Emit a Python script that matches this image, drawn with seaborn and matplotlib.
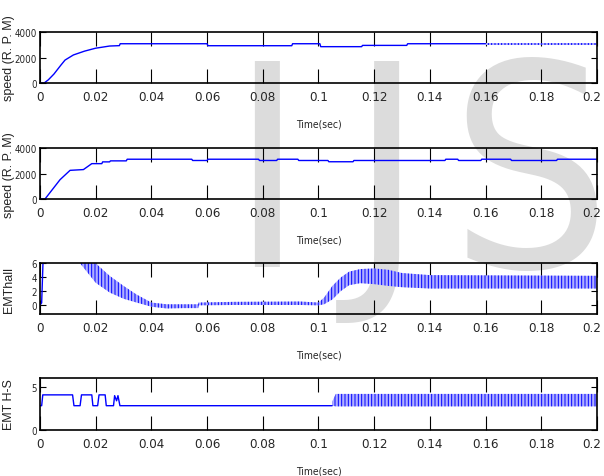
import matplotlib
matplotlib.use('Agg')
import matplotlib.pyplot as plt
from matplotlib import font_manager
from matplotlib.font_manager import FontProperties
from matplotlib.transforms import ScaledTranslation
import seaborn as sns

# x axis (shared by all four panels)
time_ticks = [0, 0.02, 0.04, 0.06, 0.08, 0.1, 0.12, 0.14, 0.16, 0.18, 0.2]
time_tick_labels = ['0', '0.02', '0.04', '0.06', '0.08', '0.1', '0.12', '0.14', '0.16', '0.18', '0.2']

# panel 1: speed (R.P.M)
speed1_t = [0, 0.0015, 0.003, 0.005, 0.0075, 0.009, 0.012, 0.016, 0.02, 0.025, 0.0285,
            0.0288, 0.06, 0.0603, 0.0904, 0.0907, 0.1005, 0.1008, 0.1155, 0.1158, 0.1317,
            0.132, 0.16]
speed1_rpm = [0, 0, 250, 700, 1400, 1800, 2200, 2500, 2730, 2900, 2930,
              3080, 3080, 2925, 2925, 3080, 3080, 2850, 2850, 2950, 2950,
              3080, 3080]
speed1_ripple_t = [0.16, 0.2]
speed1_ripple_lo = [2950, 2950]
speed1_ripple_hi = [3170, 3170]

# panel 2: speed (R.P.M)
speed2_t = [0, 0.0018, 0.0072, 0.0108, 0.0156, 0.0186, 0.0222, 0.0225, 0.025, 0.0253,
            0.031, 0.0313, 0.0545, 0.0548, 0.06, 0.0603, 0.0785, 0.0788, 0.085, 0.0853,
            0.0926, 0.0929, 0.1034, 0.1037, 0.1124, 0.1127, 0.1454, 0.1457, 0.150, 0.1503,
            0.1583, 0.1586, 0.169, 0.1693, 0.1855, 0.1858, 0.2]
speed2_rpm = [0, 0, 1530, 2270, 2330, 2800, 2800, 2940, 2940, 3020,
              3020, 3150, 3150, 3050, 3050, 3150, 3150, 3050, 3050, 3150,
              3150, 3050, 3050, 2950, 2950, 3050, 3050, 3150, 3150, 3050,
              3050, 3150, 3150, 3050, 3050, 3150, 3150]

# panel 3: EMT hall (line start, then ripple envelope)
hall_t = [0, 0.0006, 0.0012, 0.0144]
hall_v = [0, 0.3, 7.5, 7.5]
hall_ripple_t = [0.0144, 0.02, 0.025, 0.03, 0.0347, 0.04, 0.0455, 0.0515, 0.0568, 0.057,
                 0.0695, 0.0934, 0.1, 0.102, 0.105, 0.108, 0.111, 0.115, 0.12, 0.125,
                 0.13, 0.14, 0.2]
hall_ripple_hi = [7.5, 6.0, 4.2, 2.75, 1.5, 0.35, 0.1, 0.1, 0.1, 0.35,
                  0.45, 0.5, 0.35, 1.06, 2.75, 3.96, 4.8, 5.17, 5.26, 5.07,
                  4.6, 4.3, 4.2]
hall_ripple_lo = [6.0, 3.2, 1.8, 0.9, 0.35, -0.25, -0.5, -0.45, -0.45, -0.05,
                  0.0, 0.0, -0.05, 0.1, 0.8, 2.0, 2.85, 3.14, 3.0, 2.75,
                  2.56, 2.37, 2.37]

# panel 4: EMT H-S
hs_t = [0, 0.0006, 0.001, 0.0117, 0.0122, 0.0144, 0.0149, 0.0186, 0.019, 0.0207,
        0.0212, 0.0234, 0.0238, 0.0264, 0.0268, 0.0275, 0.028, 0.0287, 0.1049]
hs_v = [2.83, 2.83, 4.09, 4.09, 2.83, 2.83, 4.09, 4.09, 2.83, 2.83,
        4.09, 4.09, 2.83, 2.83, 4.0, 3.4, 4.0, 2.83, 2.83]
hs_ripple_t = [0.1049, 0.1062, 0.2]
hs_ripple_lo = [2.83, 2.75, 2.75]
hs_ripple_hi = [3.3, 4.2, 4.2]


def find_narrow_font():
    # look for any installed condensed / narrow sans face (regular weight)
    best = None
    for f in font_manager.fontManager.ttflist:
        if f.style != 'normal' or f.weight not in (400, 'normal', 'regular'):
            continue
        name = f.name
        is_narrow = ('Narrow' in name or 'Condensed' in name or 'condensed' in str(f.stretch))
        if not is_narrow or 'Mono' in name or 'Serif' in name:
            continue
        rank = 0 if 'Liberation' in name else (1 if 'DejaVu' in name else 2)
        if best is None or rank < best[0]:
            best = (rank, f.fname)
    return best[1] if best else None


sns.set_theme(style='white')
plt.rcParams['font.family'] = ['Liberation Sans', 'DejaVu Sans']
plt.rcParams['hatch.linewidth'] = 0.7

narrow_path = find_narrow_font()
if narrow_path:
    def nfont(size):
        return FontProperties(fname=narrow_path, size=size)
    xtick_size, ytick_size, xlab_size, wm_size = 9.5, 7, 7.5, 203
else:
    def nfont(size):
        return FontProperties(family='Liberation Sans', size=size)
    xtick_size, ytick_size, xlab_size, wm_size = 7.5, 6.5, 7, 205

fig = plt.figure(figsize=(6.04, 4.77), dpi=100)
fig.patch.set_facecolor('white')

# watermark behind the axes
wm = dict(fontproperties=nfont(wm_size), color='#dcdcdc', ha='center', va='baseline', zorder=-5)
fig.text(266 / 604, 0.44, 'I', **wm)
fig.text(386 / 604, 0.44, 'J', **wm)
fig.text(530 / 604, 0.44, 'S', **wm)

# [left, bottom, width, height] in figure fractions
boxes = [
    [0.0662, 0.8239, 0.9222, 0.1069],
    [0.0662, 0.5807, 0.9222, 0.1059],
    [0.0662, 0.3396, 0.9222, 0.1063],
    [0.0662, 0.0964, 0.9222, 0.1090],
]
ylabels = ['speed (R. P. M)', 'speed (R. P. M)', 'EMThall', 'EMT H-S']
ylims = [(0, 4000), (0, 4000), (-1.3, 6), (0, 6.05)]
yticks = [[0, 2000, 4000], [0, 2000, 4000], [0, 2, 4, 6], [0, 5]]

axes = [fig.add_axes(b) for b in boxes]


def ripple(ax, t, lo, hi):
    ax.fill_between(t, lo, hi, facecolor='#b0b0ff', edgecolor='#0000ff',
                    hatch='|||||', linewidth=0)


line_kw = dict(color='#0000ff', linewidth=1.0, estimator=None, sort=False)
sns.lineplot(x=speed1_t, y=speed1_rpm, ax=axes[0], **line_kw)
ripple(axes[0], speed1_ripple_t, speed1_ripple_lo, speed1_ripple_hi)
sns.lineplot(x=speed2_t, y=speed2_rpm, ax=axes[1], **line_kw)
sns.lineplot(x=hall_t, y=hall_v, ax=axes[2], **line_kw)
ripple(axes[2], hall_ripple_t, hall_ripple_lo, hall_ripple_hi)
sns.lineplot(x=hs_t, y=hs_v, ax=axes[3], **line_kw)
ripple(axes[3], hs_ripple_t, hs_ripple_lo, hs_ripple_hi)

last_shift = ScaledTranslation(-5 / 100, 0, fig.dpi_scale_trans)

for ax, lab, yl, yt in zip(axes, ylabels, ylims, yticks):
    ax.set_facecolor('none')
    ax.set_xlim(0, 0.2)
    ax.set_ylim(*yl)
    ax.set_xticks(time_ticks)
    ax.set_xticklabels(time_tick_labels, fontproperties=nfont(xtick_size))
    ax.set_yticks(yt)
    ax.set_yticklabels([str(v) for v in yt], fontproperties=nfont(ytick_size))
    ax.tick_params(axis='x', direction='in', length=10, width=0.8, color='black',
                   top=True, bottom=True, pad=5)
    ax.tick_params(axis='y', direction='in', length=4, width=0.8, color='black',
                   left=True, right=True, pad=2)
    # keep "0.2" inside the picture, as in the original
    end_lbl = ax.get_xticklabels()[-1]
    end_lbl.set_transform(end_lbl.get_transform() + last_shift)
    for s in ax.spines.values():
        s.set_color('black')
        s.set_linewidth(1.2)
    ax.set_xlabel('Time(sec)', fontproperties=nfont(xlab_size), labelpad=11)
    ax.set_ylabel(lab, fontsize=9, color='#222222')
    ax.yaxis.set_label_coords(-0.045, 0.5)
    ax.grid(False)

fig.savefig('out.png', dpi=100)
